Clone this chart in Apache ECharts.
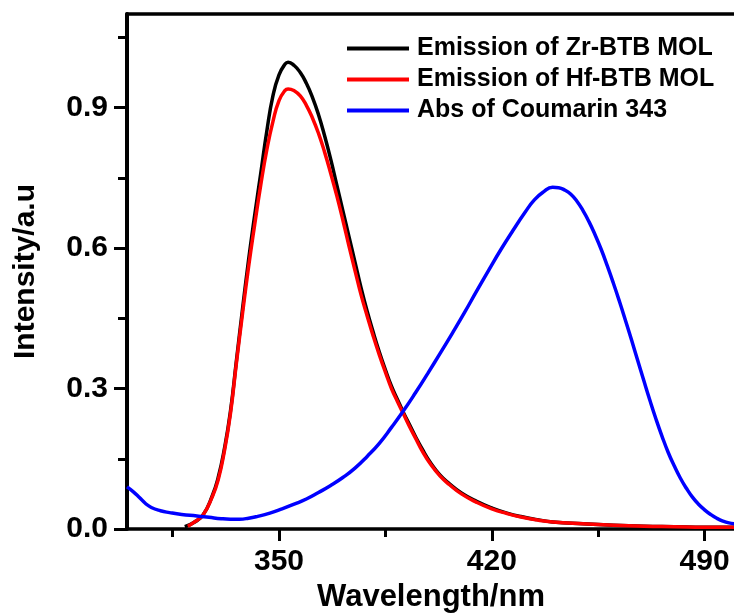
<!DOCTYPE html>
<html>
<head>
<meta charset="utf-8">
<script src="https://cdn.jsdelivr.net/npm/echarts@6/dist/echarts.min.js"></script>
<style>
  html, body { margin: 0; padding: 0; background: #ffffff; }
  #chart { width: 734px; height: 613px; }
</style>
</head>
<body>
<div id="chart"></div>
<script>
// Spectra: wavelength (nm) vs normalised intensity
const zrEmission = [
  [319,0.005],[322,0.014],[325,0.03],[328,0.07],[330,0.11],[332,0.17],[334,0.25],[336,0.36],
  [338,0.47],[340,0.575],[342,0.67],[344,0.76],[346,0.85],[348,0.925],[350,0.97],[352,0.993],
  [353,0.997],[355,0.99],[357,0.975],[359,0.952],[361,0.922],[363,0.885],[365,0.84],[367,0.79],
  [369,0.735],[371,0.68],[373,0.625],[375,0.57],[377,0.515],[379,0.465],[381,0.42],[383,0.378],
  [385,0.34],[387,0.305],[389,0.276],[391,0.248],[393,0.222],[395,0.196],[397,0.172],[400,0.14],
  [403,0.115],[406,0.097],[410,0.077],[415,0.059],[420,0.045],[425,0.034],[430,0.026],[435,0.02],
  [440,0.015],[450,0.011],[460,0.008],[470,0.006],[480,0.005],[490,0.004],[500,0.004]
];
const hfEmission = [
  [320,0.006],[322,0.014],[325,0.03],[328,0.068],[330,0.105],[332,0.165],[334,0.245],[336,0.355],
  [338,0.46],[340,0.56],[342,0.65],[344,0.735],[346,0.81],[348,0.87],[350,0.915],[352,0.937],
  [353,0.94],[355,0.936],[357,0.925],[359,0.905],[361,0.878],[363,0.845],[365,0.805],[367,0.76],
  [369,0.712],[371,0.66],[373,0.605],[375,0.552],[377,0.5],[379,0.455],[381,0.412],[383,0.372],
  [385,0.335],[387,0.3],[389,0.272],[391,0.245],[393,0.218],[395,0.193],[397,0.168],[400,0.137],
  [403,0.113],[406,0.095],[410,0.075],[415,0.057],[420,0.043],[425,0.033],[430,0.025],[435,0.019],
  [440,0.015],[450,0.011],[460,0.008],[470,0.006],[480,0.005],[490,0.004],[500,0.004]
];
const coumarinAbs = [
  [300,0.09],[302,0.08],[304,0.068],[306,0.055],[308,0.046],[311,0.039],[314,0.035],[318,0.031],
  [323,0.028],[327,0.025],[331,0.022],[334,0.021],[337,0.021],[340,0.023],[343,0.027],[347,0.034],
  [351,0.043],[355,0.053],[359,0.064],[363,0.078],[367,0.093],[371,0.11],[375,0.13],[379,0.155],
  [383,0.183],[387,0.217],[391,0.253],[395,0.292],[399,0.333],[403,0.375],[407,0.418],[411,0.462],
  [415,0.508],[419,0.553],[423,0.597],[427,0.638],[431,0.677],[434,0.703],[437,0.72],[440,0.73],
  [442,0.729],[444,0.724],[446,0.715],[448,0.7],[450,0.68],[452,0.656],[454,0.628],[456,0.597],
  [458,0.562],[460,0.525],[462,0.486],[464,0.445],[466,0.403],[468,0.36],[470,0.317],[472,0.275],
  [474,0.235],[476,0.198],[478,0.164],[480,0.135],[482,0.109],[484,0.087],[486,0.068],[488,0.053],
  [490,0.041],[492,0.031],[494,0.023],[496,0.017],[498,0.013],[500,0.011]
];

const seriesNames = ['Emission of Zr-BTB MOL', 'Emission of Hf-BTB MOL', 'Abs of Coumarin 343'];
const xMajorTicks = [350, 420, 490];
const xMinorTicks = [315, 385, 455];
const yMajorTicks = [0, 0.3, 0.6, 0.9];
const yMinorTicks = [0.15, 0.45, 0.75, 1.05];
const xRange = [300, 500];
const yRange = [0, 1.1];
const axisTitles = { x: 'Wavelength/nm', y: 'Intensity/a.u' };

const FONT = '"Liberation Sans", Arial, sans-serif';
const lineCol = '#000';

const chart = echarts.init(document.getElementById('chart'), null, { renderer: 'canvas' });

const baseX = {
  type: 'value', min: xRange[0], max: xRange[1], gridIndex: 0,
  splitLine: { show: false }
};
const baseY = {
  type: 'value', min: yRange[0], max: yRange[1], gridIndex: 0,
  splitLine: { show: false }
};

function curve(name, data, color) {
  return {
    name: name, type: 'line', data: data, xAxisIndex: 0, yAxisIndex: 0,
    smooth: 0.5, showSymbol: false,
    lineStyle: { color: color, width: 3.5 }, itemStyle: { color: color }
  };
}

chart.setOption({
  backgroundColor: '#ffffff',
  animation: false,
  grid: { left: 127, top: 14, width: 608, bottom: 84, containLabel: false, outerBoundsMode: 'none' },
  legend: {
    orient: 'vertical',
    left: 342,
    top: 31,
    icon: 'rect',
    itemWidth: 62,
    itemHeight: 4,
    itemGap: 6,
    data: seriesNames,
    textStyle: {
      fontFamily: FONT, fontWeight: 'bold', fontSize: 25, color: '#000',
      lineHeight: 25, padding: [0, 0, 0, 3]
    }
  },
  xAxis: [
    Object.assign({}, baseX, {
      position: 'bottom',
      name: axisTitles.x,
      nameLocation: 'middle',
      nameGap: 48,
      nameTextStyle: { fontFamily: FONT, fontWeight: 'bold', fontSize: 31, color: '#000' },
      axisLine: { show: true, lineStyle: { color: lineCol, width: 3.5 } },
      axisTick: { show: true, inside: false, length: 12, lineStyle: { color: lineCol, width: 3 }, customValues: xMajorTicks },
      axisLabel: {
        show: true, margin: 18, customValues: xMajorTicks,
        fontFamily: FONT, fontWeight: 'bold', fontSize: 30, color: '#000',
        formatter: v => String(v)
      }
    }),
    Object.assign({}, baseX, {
      position: 'bottom',
      axisLine: { show: false },
      axisTick: { show: true, inside: false, length: 8, lineStyle: { color: lineCol, width: 3 }, customValues: xMinorTicks },
      axisLabel: { show: false }
    }),
    Object.assign({}, baseX, {
      position: 'top',
      axisLine: { show: true, lineStyle: { color: lineCol, width: 3.5 } },
      axisTick: { show: false },
      axisLabel: { show: false }
    })
  ],
  yAxis: [
    Object.assign({}, baseY, {
      position: 'left',
      name: axisTitles.y,
      nameLocation: 'middle',
      nameGap: 86,
      nameTextStyle: { fontFamily: FONT, fontWeight: 'bold', fontSize: 30, color: '#000' },
      axisLine: { show: true, lineStyle: { color: lineCol, width: 4 } },
      axisTick: { show: true, inside: false, length: 13, lineStyle: { color: lineCol, width: 3 }, customValues: yMajorTicks },
      axisLabel: {
        show: true, margin: 19, customValues: yMajorTicks,
        fontFamily: FONT, fontWeight: 'bold', fontSize: 30, color: '#000',
        formatter: v => v.toFixed(1)
      }
    }),
    Object.assign({}, baseY, {
      position: 'left',
      axisLine: { show: false },
      axisTick: { show: true, inside: false, length: 9, lineStyle: { color: lineCol, width: 3 }, customValues: yMinorTicks },
      axisLabel: { show: false }
    })
  ],
  series: [
    curve(seriesNames[0], zrEmission, '#000000'),
    curve(seriesNames[1], hfEmission, '#ff0000'),
    curve(seriesNames[2], coumarinAbs, '#0000ff')
  ]
});
</script>
</body>
</html>
